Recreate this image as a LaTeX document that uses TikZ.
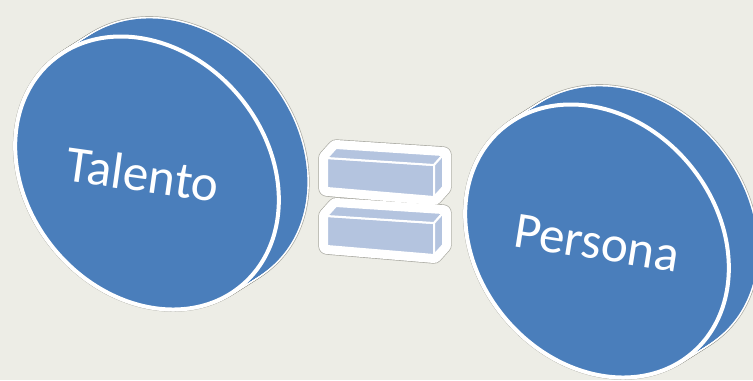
\documentclass[tikz,border=0pt]{standalone}
\usepackage{fontspec}
\setmainfont{Carlito}
\definecolor{paper}{HTML}{EDEDE6}
\definecolor{discblue}{HTML}{4A7EBB}
\definecolor{barblue}{HTML}{B4C4DF}
\definecolor{rimgray}{HTML}{A8A8A0}

\begin{document}
\begin{tikzpicture}[x=0.75pt, y=-0.75pt,
    hull_edge/.style={draw=rimgray, line width=3.4pt},
    hull_rim/.style={draw=white, line width=2.4pt},
    hull_fill/.style={fill=discblue},
    disc_face/.style={fill=discblue, draw=white, line width=3pt},
    disc_text/.style={text=white, font=\fontsize{38.5}{42}\selectfont},
    bar_edge/.style={draw=rimgray, line width=13pt, line join=round},
    bar_rim/.style={draw=white, line width=12pt, line join=round},
    bar_face/.style={fill=barblue, draw=white, line width=1.5pt, line join=round}]

    % Paper background
    \path[use as bounding box, fill=paper] (0,0) rectangle (753,380);

    % Discs: side body, then front face
    \foreach \cx/\cy in {147/173, 597/241} {
        \foreach \s in {0,0.05,...,1}
            \path[hull_edge, shift={(30*\s,-19*\s)}, rotate around={-50:(\cx,\cy)}] (\cx,\cy) ellipse [x radius=147, y radius=120];
        \foreach \s in {0,0.05,...,1}
            \path[hull_rim, shift={(30*\s,-19*\s)}, rotate around={-50:(\cx,\cy)}] (\cx,\cy) ellipse [x radius=147, y radius=120];
        \foreach \s in {0,0.05,...,1}
            \path[hull_fill, shift={(30*\s,-19*\s)}, rotate around={-50:(\cx,\cy)}] (\cx,\cy) ellipse [x radius=147, y radius=120];
        \path[disc_face, rotate around={-50:(\cx,\cy)}] (\cx,\cy) ellipse [x radius=147, y radius=120];
    }

    % Labels
    \node[disc_text, rotate=-8] (talento) at (143,174) {Talento};
    \node[disc_text, rotate=-9] (persona) at (597,243) {Persona};

    % Equals sign: corners of the two boxes
    \foreach \dy/\bar in {0/top, 58/low} {
        \coordinate (\bar_a) at (327,158+\dy);
        \coordinate (\bar_b) at (434,165+\dy);
        \coordinate (\bar_c) at (434,197+\dy);
        \coordinate (\bar_d) at (327,188+\dy);
        \coordinate (\bar_ta) at (336,148+\dy);
        \coordinate (\bar_tb) at (443,155+\dy);
        \coordinate (\bar_tc) at (443,187+\dy);
    }
    \foreach \bar in {top, low}
        \path[bar_edge] (\bar_a) -- (\bar_ta) -- (\bar_tb) -- (\bar_tc) -- (\bar_c) -- (\bar_d) -- cycle;
    \foreach \bar in {top, low}
        \path[bar_rim] (\bar_a) -- (\bar_ta) -- (\bar_tb) -- (\bar_tc) -- (\bar_c) -- (\bar_d) -- cycle;
    \foreach \bar in {top, low} {
        \path[bar_face] (\bar_a) -- (\bar_b) -- (\bar_c) -- (\bar_d) -- cycle;
        \path[bar_face] (\bar_a) -- (\bar_ta) -- (\bar_tb) -- (\bar_b) -- cycle;
        \path[bar_face] (\bar_b) -- (\bar_tb) -- (\bar_tc) -- (\bar_c) -- cycle;
    }
\end{tikzpicture}
\end{document}
